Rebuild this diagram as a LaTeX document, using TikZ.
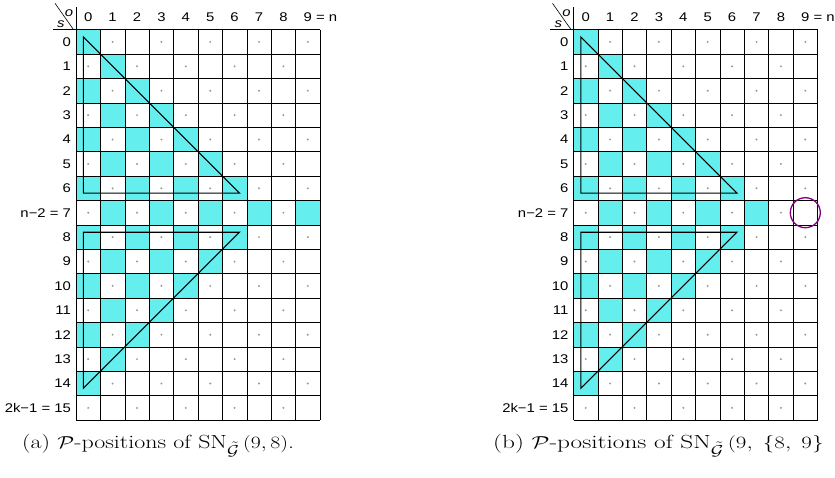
\documentclass[tikz,border=0pt]{standalone}
\usepackage{fontspec}
\newfontfamily\lab{Liberation Sans}
\definecolor{pcyan}{RGB}{100,238,238}
\definecolor{ppurple}{RGB}{128,0,128}
\newcommand{\hs}[1]{\scalebox{1.18}[1]{#1}}
\tikzset{
  gridline/.style={black, line width=0.6pt},
  tri/.style={black, line width=1.1pt, line join=miter},
  lbl/.style={font=\lab\fontsize{12.6}{14}\selectfont, inner sep=0pt},
  ilbl/.style={font=\lab\itshape\fontsize{12.6}{14}\selectfont, inner sep=0pt},
  captext/.style={font=\fontsize{19}{22}\selectfont, inner sep=0pt, anchor=base west},
  dotmark/.style={fill=gray!80},
}
\begin{document}
\begin{tikzpicture}[x=1pt,y=-1pt]
\useasboundingbox (0,0) rectangle (835,477);
\foreach \gx/\isb in {76/0,573.5/1}{
\begin{scope}[shift={(\gx,29.7)}, x=24.4pt, y=-24.4pt]
  \foreach \s in {0,...,15}{
    \foreach \o in {0,...,9}{
      \pgfmathtruncatemacro\pty{mod(\s+\o,2)}
      \pgfmathtruncatemacro\iscyan{((\pty==0) && (((\s<=6) && (\o<=\s)) || (\s==7) || ((\s>=8) && (\s<=14) && (\o<=14-\s))) && !((\isb==1) && (\s==7) && (\o==9))) ? 1 : 0}
      \ifnum\iscyan=1 \fill[pcyan] (\o,\s) rectangle ++(1,1);\fi
      \ifnum\pty=1 \fill[dotmark] (\o+0.5,\s+0.5) circle[radius=1.1pt];\fi
    }
  }
  \foreach \i in {0,...,10} \draw[gridline] (\i,0) -- (\i,16);
  \foreach \j in {0,...,16} \draw[gridline] (0,\j) -- (10,\j);
  \draw[gridline] (0,0) -- (0,-0.93);
  \draw[gridline] (0,0) -- (-0.96,0);
  \draw[gridline] (-0.86,-1.08) -- (-0.12,-0.03);
  \node[ilbl] (o\isb) at (-0.29,-0.66) {\hs{o}};
  \node[ilbl] (s\isb) at (-0.62,-0.22) {\hs{s}};
  \foreach \c in {0,...,8} \node[lbl] (c\isb\c) at (\c+0.5,-0.52) {\hs{\c}};
  \node[lbl] (c\isb9) at (9.5,-0.52) {\hs{9}\rlap{\hs{ = n}}};
  \foreach \r in {0,...,6,8,9,...,14} \node[lbl, anchor=east] (r\isb\r) at (-0.2,\r+0.5) {\hs{\r}};
  \node[lbl, anchor=east] (r\isb7) at (-0.2,7.5) {\hs{n−2 = 7}};
  \node[lbl, anchor=east] (r\isb15) at (-0.2,15.5) {\hs{2k−1 = 15}};
  \draw[tri] (0.3,0.3) -- (0.3,6.7) -- (6.7,6.7) -- cycle;
  \draw[tri] (0.3,8.3) -- (6.7,8.3) -- (0.3,14.7) -- cycle;
  \ifnum\isb=1 \draw[ppurple, line width=1.3pt] (9.5,7.5) circle[radius=15pt]; \fi
\end{scope}
}
\node[captext] (capa) at (22,448) {\scalebox{1.26}[1]{(a) $\mathcal{P}$-positions of $\mathrm{SN}_{\tilde{\mathcal{G}}}\,(9,8)$.}};
\node[captext] (capb) at (493,448) {\scalebox{1.33}[1]{(b) $\mathcal{P}$-positions of $\mathrm{SN}_{\tilde{\mathcal{G}}}\,(9,\;\{8,\;9\}$}};
\end{tikzpicture}
\end{document}
